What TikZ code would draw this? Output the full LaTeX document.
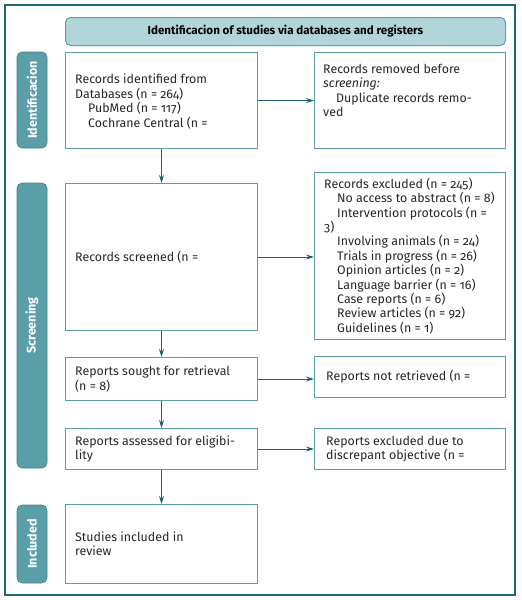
\documentclass[tikz,border=0pt]{standalone}
\usepackage{fontspec}
\setmainfont{Fira Sans}[Numbers=OldStyle]
\usetikzlibrary{arrows.meta}
\definecolor{framec}{HTML}{1F6878}
\definecolor{boxline}{HTML}{5A9FA8}
\definecolor{sidec}{HTML}{5A9FA8}
\definecolor{headc}{HTML}{B2D5DA}
\definecolor{arrc}{HTML}{1A6070}
\begin{document}
\begin{tikzpicture}[x=1pt,y=-1pt,
  box/.style={draw=boxline, line width=1pt, inner sep=0pt, anchor=north west},
  txt/.style={font=\fontsize{12.4}{14.4}\selectfont, align=left, inner sep=0pt, anchor=west, text=black!85},
  sidebox/.style={fill=sidec, draw=sidec!80!black, line width=0.6pt, rounded corners=5pt, inner sep=0pt,
    rotate=90, minimum height=30pt, text=white, font=\fontsize{12.5}{14}\selectfont\bfseries},
  arrow/.style={draw=arrc, line width=1pt, -{Stealth[length=8pt,width=5pt]}}]
\useasboundingbox (0,0) rectangle (522,600);
% outer frame
\draw[framec, line width=1.5pt] (5,5) rectangle (515,595);
% header
\node[box, fill=headc, rounded corners=5pt, minimum width=440, minimum height=28,
  font=\fontsize{11.6}{13}\selectfont\bfseries] (head) at (65,17) {Identificacion of studies via databases and registers};
% side labels
\node[sidebox, minimum width=96] (s1) at (32,100) {Identificacion};
\node[sidebox, minimum width=285] (s2) at (32,325.5) {Screening};
\node[sidebox, minimum width=78] (s3) at (32,544) {Included};
% left column boxes
\node[box, minimum width=192, minimum height=96] (b1) at (65,52) {};
\node[box, minimum width=192, minimum height=147] (b2) at (65,183) {};
\node[box, minimum width=192, minimum height=43] (b3) at (65,357) {};
\node[box, minimum width=192, minimum height=41] (b4) at (65,428) {};
\node[box, minimum width=192, minimum height=79] (b5) at (65,504) {};
% right column boxes
\node[box, minimum width=191, minimum height=96] (r1) at (314,52) {};
\node[box, minimum width=191, minimum height=167] (r2) at (314,172) {};
\node[box, minimum width=191, minimum height=41] (r3) at (314,356) {};
\node[box, minimum width=191, minimum height=41] (r4) at (314,428) {};
% texts
\node[txt] (t1) at ([xshift=10pt,yshift=-1pt]b1.west) {Records identified from\\Databases (n = 264)\\\hspace*{13pt}PubMed (n = 117)\\\hspace*{13pt}Cochrane Central (n =};
\node[txt] (t2) at ([xshift=10pt]b2.west) {Records screened (n =};
\node[txt] (t3) at ([xshift=10pt]b3.west) {Reports sought for retrieval\\(n = 8)};
\node[txt] (t4) at ([xshift=10pt]b4.west) {Reports assessed for eligibi-\\lity};
\node[txt] (t5) at ([xshift=10pt]b5.west) {Studies included in\\review};
\node[txt, anchor=north west] (u1) at ([xshift=9pt,yshift=-12pt]r1.north west) {Records removed before\\\textit{screening:}\\\hspace*{13pt}Duplicate records remo-\\ved};
\node[txt] (u2) at ([xshift=10pt]r2.west) {Records excluded (n = 245)\\\hspace*{13pt}No access to abstract (n = 8)\\\hspace*{13pt}Intervention protocols (n =\\3)\\\hspace*{13pt}Involving animals (n = 24)\\\hspace*{13pt}Trials in progress (n = 26)\\\hspace*{13pt}Opinion articles (n = 2)\\\hspace*{13pt}Language barrier (n = 16)\\\hspace*{13pt}Case reports (n = 6)\\\hspace*{13pt}Review articles (n = 92)\\\hspace*{13pt}Guidelines (n = 1)};
\node[txt] (u3) at ([xshift=12pt]r3.west) {Reports not retrieved (n =};
\node[txt] (u4) at ([xshift=12pt]r4.west) {Reports excluded due to\\discrepant objective (n =};
% arrows
\draw[arrow] (b1.east) -- (b1.east -| r1.west);
\draw[arrow] (b2.east) -- (b2.east -| r2.west);
\draw[arrow] (b3.east) -- (b3.east -| r3.west);
\draw[arrow] (b4.east) -- (b4.east -| r4.west);
\draw[arrow] (b1.south) -- (b2.north);
\draw[arrow] (b2.south) -- (b3.north);
\draw[arrow] (b3.south) -- (b4.north);
\draw[arrow] (b4.south) -- (b5.north);
\end{tikzpicture}
\end{document}
